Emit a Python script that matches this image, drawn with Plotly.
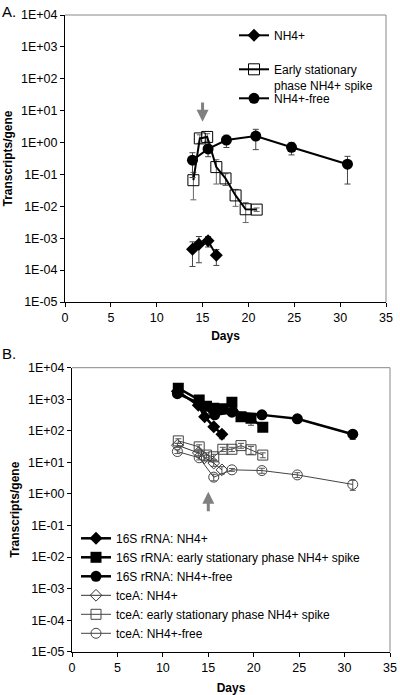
import plotly.graph_objects as go

# ---------------- Panel A data ----------------
a_nh4_days = [13.9, 14.6, 15.6, 16.5]
a_nh4_vals = [4.5e-4, 6.5e-4, 8.3e-4, 2.9e-4]
a_nh4_err = [3.2e-4, 4.8e-4, 3.0e-4, 1.5e-4]

a_spike_days = [14.0, 14.7, 15.5, 16.5, 17.5, 18.6, 19.7, 20.9]
a_spike_vals = [0.066, 1.35, 1.5, 0.17, 0.075, 0.022, 0.0081, 0.0079]
a_spike_err = [0.05, 0.4, 0.4, 0.12, 0.03, 0.012, 0.005, 0.001]

a_free_days = [13.9, 15.6, 17.6, 20.8, 24.7, 30.8]
a_free_vals = [0.28, 0.63, 1.2, 1.6, 0.71, 0.21]
a_free_err = [0.2, 0.27, 0.5, 1.0, 0.3, 0.16]

# ---------------- Panel B data ----------------
b16_nh4_days = [11.6, 13.9, 14.6, 15.6, 16.5]
b16_nh4_vals = [1800, 650, 280, 135, 78]
b16_nh4_err = [150, 80, 40, 25, 22]

b16_spike_days = [11.7, 14.0, 14.8, 15.6, 16.6, 17.6, 18.6, 19.7, 21.0]
b16_spike_vals = [2250, 950, 600, 520, 500, 800, 280, 250, 130]
b16_spike_err = [200, 100, 60, 60, 50, 100, 60, 100, 35]

b16_free_days = [11.6, 14.0, 15.7, 17.6, 20.9, 24.8, 30.9]
b16_free_vals = [1500, 750, 320, 390, 320, 240, 78]
b16_free_err = [100, 60, 40, 50, 40, 30, 25]

btce_nh4_days = [11.6, 13.9, 14.6, 15.6, 16.5]
btce_nh4_vals = [35, 20, 14, 9.5, 5.8]
btce_nh4_err = [5, 4, 3, 2, 1.5]

btce_spike_days = [11.7, 14.0, 14.8, 15.6, 16.6, 17.6, 18.6, 19.7, 21.0]
btce_spike_vals = [48, 31, 17, 15, 26, 26, 34, 25, 17]
btce_spike_err = [8, 5, 3, 3, 4, 4, 6, 7, 3]

btce_free_days = [11.6, 14.0, 15.6, 17.6, 20.9, 24.8, 30.9]
btce_free_vals = [22, 14, 3.4, 5.8, 5.5, 4.0, 2.0]
btce_free_err = [3, 2, 0.8, 0.6, 1.0, 0.7, 0.7]

y_tickvals = [1e-5, 1e-4, 1e-3, 1e-2, 1e-1, 1e0, 1e1, 1e2, 1e3, 1e4]
y_ticktext = ["1E-05", "1E-04", "1E-03", "1E-02", "1E-01", "1E+00", "1E+01", "1E+02", "1E+03", "1E+04"]
x_tickvals = [0, 5, 10, 15, 20, 25, 30, 35]

FONT = "Liberation Sans, Arial, sans-serif"
W, H = 400, 695

fig = go.Figure()


def add(days, vals, err, name, xa, ya, legend, symbol, msize, lcolor, lwidth,
        mcolor, ecolor="#444"):
    fig.add_trace(go.Scatter(
        x=days, y=vals, name=name, mode="lines+markers",
        xaxis=xa, yaxis=ya, legend=legend, legendgroup=name, showlegend=True,
        line=dict(color=lcolor, width=lwidth),
        marker=dict(symbol=symbol, size=msize, color=mcolor),
        error_y=dict(type="data", array=err, visible=True, color=ecolor,
                     thickness=1, width=3),
    ))


# Panel A (each legend entry gets its own small legend box for exact placement)
add(a_nh4_days, a_nh4_vals, a_nh4_err, "NH4+", "x", "y", "legend",
    "diamond", 10, "black", 2, "black")
add(a_spike_days, a_spike_vals, a_spike_err, "Early stationary<br>phase NH4+ spike",
    "x", "y", "legend3", "square-open", 11, "black", 2, "black", ecolor="#666")
add(a_free_days, a_free_vals, a_free_err, "NH4+-free", "x", "y", "legend4",
    "circle", 11, "black", 2, "black")

# Panel B
add(b16_nh4_days, b16_nh4_vals, b16_nh4_err, "16S rRNA: NH4+", "x2", "y2", "legend2",
    "diamond", 10, "black", 2.5, "black")
add(b16_spike_days, b16_spike_vals, b16_spike_err, "16S rRNA: early stationary phase NH4+ spike",
    "x2", "y2", "legend2", "square", 11, "black", 2.5, "black")
add(b16_free_days, b16_free_vals, b16_free_err, "16S rRNA: NH4+-free", "x2", "y2", "legend2",
    "circle", 11, "black", 2.5, "black")
add(btce_nh4_days, btce_nh4_vals, btce_nh4_err, "tceA: NH4+", "x2", "y2", "legend2",
    "diamond-open", 9, "#333", 1, "#333", ecolor="#555")
add(btce_spike_days, btce_spike_vals, btce_spike_err, "tceA: early stationary phase NH4+ spike",
    "x2", "y2", "legend2", "square-open", 10, "#444", 1, "#444", ecolor="#555")
add(btce_free_days, btce_free_vals, btce_free_err, "tceA: NH4+-free", "x2", "y2", "legend2",
    "circle-open", 10, "#444", 1, "#444", ecolor="#555")

axis_common = dict(showgrid=False, zeroline=False, showline=True, linecolor="black",
                   linewidth=1, ticks="outside", ticklen=4, tickcolor="black",
                   automargin=False, ticklabeloverflow="allow",
                   tickfont=dict(family=FONT, size=12.5, color="black"))

title_font = dict(family=FONT, size=12, color="black")
xA = dict(domain=[65 / W, 386 / W], range=[0, 35], tickvals=x_tickvals, anchor="y",
          title=dict(text="<b>Days</b>", font=title_font, standoff=7), **axis_common)
yA = dict(domain=[1 - 302 / H, 1 - 15 / H], type="log", range=[-5, 4], tickvals=y_tickvals,
          ticktext=y_ticktext, anchor="x",
          title=dict(text="<b>Transcripts/gene</b>", font=title_font, standoff=5), **axis_common)
xB = dict(domain=[72 / W, 390 / W], range=[0, 35], tickvals=x_tickvals, anchor="y2",
          title=dict(text="<b>Days</b>", font=title_font, standoff=9), **axis_common)
yB = dict(domain=[1 - 651.7 / H, 1 - 367.7 / H], type="log", range=[-5, 4], tickvals=y_tickvals,
          ticktext=y_ticktext, anchor="x2",
          title=dict(text="<b>Transcripts/gene</b>", font=title_font, standoff=5), **axis_common)

shapes = []
for xr, yr in (("x domain", "y domain"), ("x2 domain", "y2 domain")):
    shapes.append(dict(type="line", xref=xr, yref=yr, x0=0, x1=1, y0=1, y1=1,
                       line=dict(color="#888", width=1)))
    shapes.append(dict(type="line", xref=xr, yref=yr, x0=1, x1=1, y0=0, y1=1,
                       line=dict(color="#888", width=1)))

annotations = [
    dict(text="A.", xref="paper", yref="paper", x=0, y=1 - 1 / H, xanchor="left", yanchor="top",
         showarrow=False, font=dict(family=FONT, size=15, color="black")),
    dict(text="B.", xref="paper", yref="paper", x=0, y=1 - 343 / H, xanchor="left", yanchor="top",
         showarrow=False, font=dict(family=FONT, size=15, color="black")),
    # arrows marking the NH4+ spike (day 15); log axes -> log10 coordinates
    dict(x=15, y=0.65, xref="x", yref="y", ax=15, ay=1.30, axref="x", ayref="y",
         showarrow=True, arrowhead=2, arrowsize=0.8, arrowwidth=3, arrowcolor="#808080", text=""),
    dict(x=15, y=0.07, xref="x2", yref="y2", ax=15, ay=-0.6, axref="x2", ayref="y2",
         showarrow=True, arrowhead=2, arrowsize=0.8, arrowwidth=3, arrowcolor="#808080", text=""),
]

leg_font = dict(family=FONT, size=12, color="black")


def leg(xpx, ypx, **kw):
    d = dict(x=xpx / W, y=1 - ypx / H, xanchor="left", yanchor="top",
             bgcolor="rgba(0,0,0,0)", font=leg_font, valign="top")
    d.update(kw)
    return d


fig.update_layout(
    width=W, height=H, margin=dict(l=0, r=0, t=0, b=0),
    paper_bgcolor="white", plot_bgcolor="white", showlegend=True,
    font=dict(family=FONT, size=12, color="black"),
    xaxis=xA, yaxis=yA, xaxis2=xB, yaxis2=yB,
    shapes=shapes, annotations=annotations,
    legend=leg(234, 21),
    legend3=leg(234, 55),
    legend4=leg(234, 84),
    legend2=leg(76, 524, traceorder="grouped", tracegroupgap=0),
)

fig.write_html("out.html", config={"displayModeBar": False},
               post_script="document.body.style.margin='0';document.body.style.overflow='hidden';")
